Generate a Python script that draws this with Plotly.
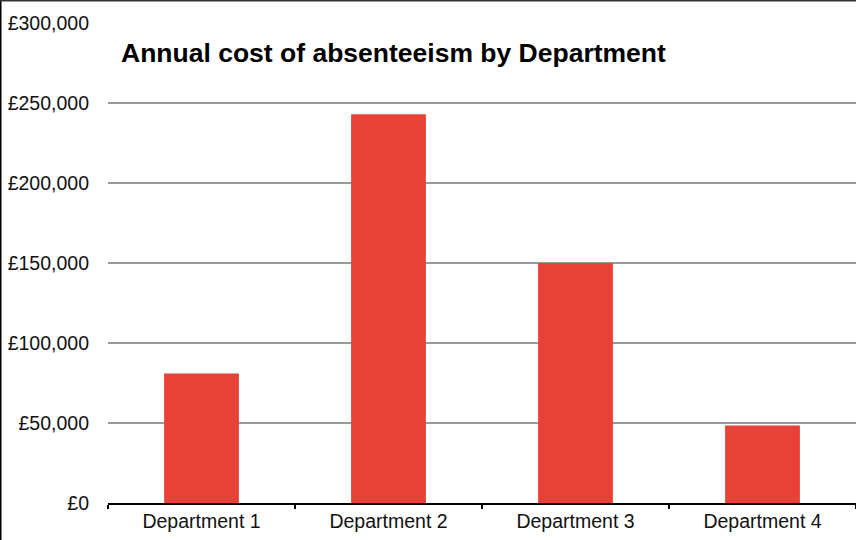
import plotly.graph_objects as go

# Annual absenteeism cost per department (GBP)
departments = ["Department 1", "Department 2", "Department 3", "Department 4"]
annual_cost = [81000, 243000, 150000, 48500]
y_ticks = [0, 50000, 100000, 150000, 200000, 250000, 300000]
y_tick_labels = ["£{:,}".format(v) for v in y_ticks]

W, H = 856, 540
ML, MR, MT, MB = 108, 0, 23, 37
plot_w = W - ML - MR
plot_h = H - MT - MB

fig = go.Figure(
    go.Bar(
        x=departments,
        y=annual_cost,
        marker=dict(color="#E84137", line=dict(width=0)),
        hoverinfo="x+y",
    )
)

fig.update_layout(
    width=W,
    height=H,
    margin=dict(l=ML, r=MR, t=MT, b=MB),
    paper_bgcolor="white",
    plot_bgcolor="white",
    bargap=0.6,
    showlegend=False,
    font=dict(family="Liberation Sans, Arial, sans-serif", color="#111111"),
    title=dict(
        text="<b>Annual cost of absenteeism by Department</b>",
        font=dict(size=26.5, color="#000000"),
        xref="paper",
        x=(121 - ML) / plot_w,
        xanchor="left",
        yref="container",
        y=1 - 53 / H,
        yanchor="middle",
    ),
    xaxis=dict(
        type="category",
        showline=True,
        linecolor="#000000",
        linewidth=2,
        ticks="outside",
        tickson="boundaries",
        ticklen=4,
        tickwidth=2,
        tickcolor="#000000",
        showgrid=False,
        tickfont=dict(size=19.5, color="#111111"),
        ticklabelstandoff=0,
    ),
    yaxis=dict(
        range=[0, 300000],
        tickmode="array",
        tickvals=y_ticks,
        ticktext=y_tick_labels,
        showgrid=True,
        gridcolor="#9a9a9a",
        gridwidth=2,
        zeroline=False,
        showline=False,
        ticks="",
        tickfont=dict(size=19.5, color="#111111"),
        ticklabelstandoff=18,
    ),
    shapes=[
        # frame edges along the left and top of the page
        dict(type="line", xref="paper", yref="paper",
             x0=(0.5 - ML) / plot_w, x1=(0.5 - ML) / plot_w,
             y0=-MB / plot_h, y1=1 + MT / plot_h,
             line=dict(color="#000000", width=2)),
        dict(type="line", xref="paper", yref="paper",
             x0=-ML / plot_w, x1=1,
             y0=1 + (MT - 0.5) / plot_h, y1=1 + (MT - 0.5) / plot_h,
             line=dict(color="#333333", width=2)),
    ],
)

fig.write_html("out.html")
